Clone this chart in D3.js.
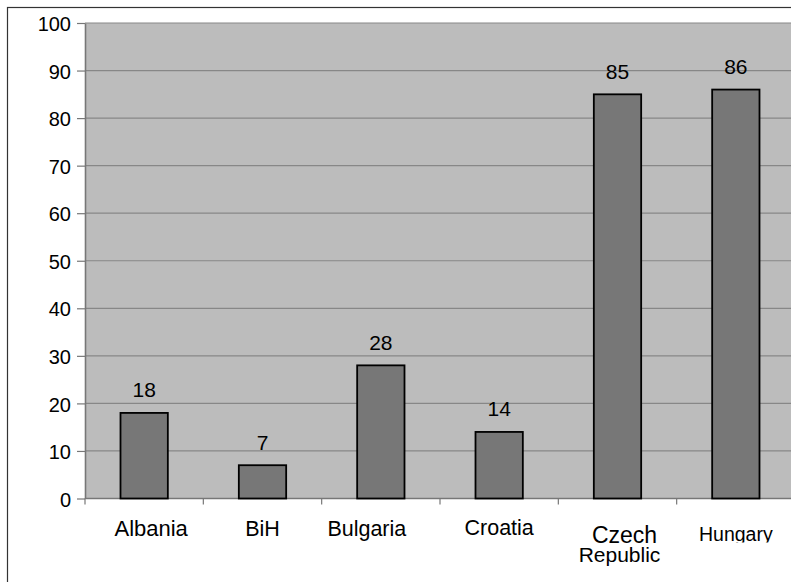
<!DOCTYPE html>
<html>
<head>
<meta charset="utf-8">
<script src="https://cdn.jsdelivr.net/npm/d3@7/dist/d3.min.js"></script>
<style>
  html, body { margin: 0; padding: 0; background: #ffffff; }
  svg { display: block; font-family: "Liberation Sans", Arial, sans-serif; }
</style>
</head>
<body>
<svg id="chart" width="791" height="582"></svg>
<script>
// Countries and their scores
const categories = ["Albania", "BiH", "Bulgaria", "Croatia", "Czech Republic", "Hungary"];
const values = [18, 7, 28, 14, 85, 86];
const yTicks = [0, 10, 20, 30, 40, 50, 60, 70, 80, 90, 100];

// Category label typography (per line: size, baseline y, horizontal nudge)
const labelStyle = {
  "Albania":        [{ size: 22,   y: 536,   dx: 7 }],
  "BiH":            [{ size: 21.5, y: 536,   dx: 0 }],
  "Bulgaria":       [{ size: 21.5, y: 536,   dx: -14 }],
  "Croatia":        [{ size: 21.5, y: 535,   dx: 0 }],
  "Czech Republic": [{ size: 23,   y: 543,   dx: 7 }, { size: 21, y: 561.5, dx: 2 }],
  "Hungary":        [{ size: 19.5, y: 540.5, dx: 0 }]
};

const svg = d3.select("#chart");
const W = 791, H = 582;
const plot = { left: 85, top: 23, right: 795, bottom: 498.5 };

// Outer chart frame (runs off the right and bottom edges)
svg.append("rect")
  .attr("x", 7.5).attr("y", 7.5)
  .attr("width", 900).attr("height", 900)
  .attr("fill", "#ffffff")
  .attr("stroke", "#333333").attr("stroke-width", 1.2);

const x = d3.scaleBand()
  .domain(categories)
  .range([plot.left, plot.right])
  .paddingInner(0.6)
  .paddingOuter(0.3);

const xStep = d3.scaleBand().domain(categories).range([plot.left, plot.right]).padding(0);

const y = d3.scaleLinear().domain([0, 100]).range([plot.bottom, plot.top]);

// Plot background
svg.append("rect")
  .attr("x", plot.left).attr("y", plot.top)
  .attr("width", plot.right - plot.left).attr("height", plot.bottom - plot.top)
  .attr("fill", "#bcbcbc");

// Horizontal gridlines
svg.append("g")
  .selectAll("line")
  .data(yTicks.filter(d => d > 0))
  .join("line")
  .attr("x1", plot.left).attr("x2", plot.right)
  .attr("y1", d => y(d)).attr("y2", d => y(d))
  .attr("stroke", "#878787").attr("stroke-width", 1.2);

// Y axis
const yAxis = svg.append("g")
  .attr("transform", `translate(${plot.left},0)`)
  .call(d3.axisLeft(y).tickValues(yTicks).tickSize(8).tickPadding(6).tickSizeOuter(0));
yAxis.select(".domain").attr("stroke", "#777777").attr("stroke-width", 1.6);
yAxis.selectAll(".tick line").attr("stroke", "#777777").attr("stroke-width", 1.2);
yAxis.selectAll(".tick text")
  .attr("fill", "#000000")
  .attr("font-size", 20)
  .attr("font-family", "'Liberation Sans', Arial, sans-serif")
  .attr("x", -14)
  .attr("dy", "0.38em");

// X axis baseline and category boundary ticks
const xAxis = svg.append("g")
  .attr("transform", `translate(0,${plot.bottom})`);
xAxis.append("line")
  .attr("x1", plot.left).attr("x2", plot.right)
  .attr("y1", 0).attr("y2", 0)
  .attr("stroke", "#777777").attr("stroke-width", 1.4);
xAxis.selectAll("line.bound")
  .data(categories)
  .join("line")
  .attr("class", "bound")
  .attr("x1", d => xStep(d)).attr("x2", d => xStep(d))
  .attr("y1", 0).attr("y2", 6)
  .attr("stroke", "#777777").attr("stroke-width", 1.2);

// Bars
svg.append("g")
  .selectAll("rect")
  .data(categories.map((c, i) => ({ c, v: values[i] })))
  .join("rect")
  .attr("x", d => x(d.c))
  .attr("y", d => y(d.v))
  .attr("width", x.bandwidth())
  .attr("height", d => y(0) - y(d.v))
  .attr("fill", "#777777")
  .attr("stroke", "#000000")
  .attr("stroke-width", 1.8);

// Value labels above bars
svg.append("g")
  .selectAll("text")
  .data(categories.map((c, i) => ({ c, v: values[i] })))
  .join("text")
  .attr("x", d => x(d.c) + x.bandwidth() / 2)
  .attr("y", d => y(d.v) - 15.5)
  .attr("text-anchor", "middle")
  .attr("font-size", 21)
  .attr("fill", "#000000")
  .text(d => d.v);

// Clip for the last category label, which sits against the lower edge of its box
svg.append("defs").append("clipPath").attr("id", "labelClip")
  .append("rect").attr("x", 0).attr("y", 0).attr("width", W).attr("height", 542.5);

// Category labels (two-word names wrap onto a second line)
const labels = svg.append("g");
categories.forEach(c => {
  const words = c === "Czech Republic" ? ["Czech", "Republic"] : [c];
  const cx = xStep(c) + xStep.bandwidth() / 2;
  const t = labels.append("text")
    .attr("text-anchor", "middle")
    .attr("fill", "#000000");
  words.forEach((w, i) => {
    const s = labelStyle[c][i];
    t.append("tspan")
      .attr("x", cx + s.dx)
      .attr("y", s.y)
      .attr("font-size", s.size)
      .text(w);
  });
  if (c === "Hungary") t.attr("clip-path", "url(#labelClip)");
});
</script>
</body>
</html>
